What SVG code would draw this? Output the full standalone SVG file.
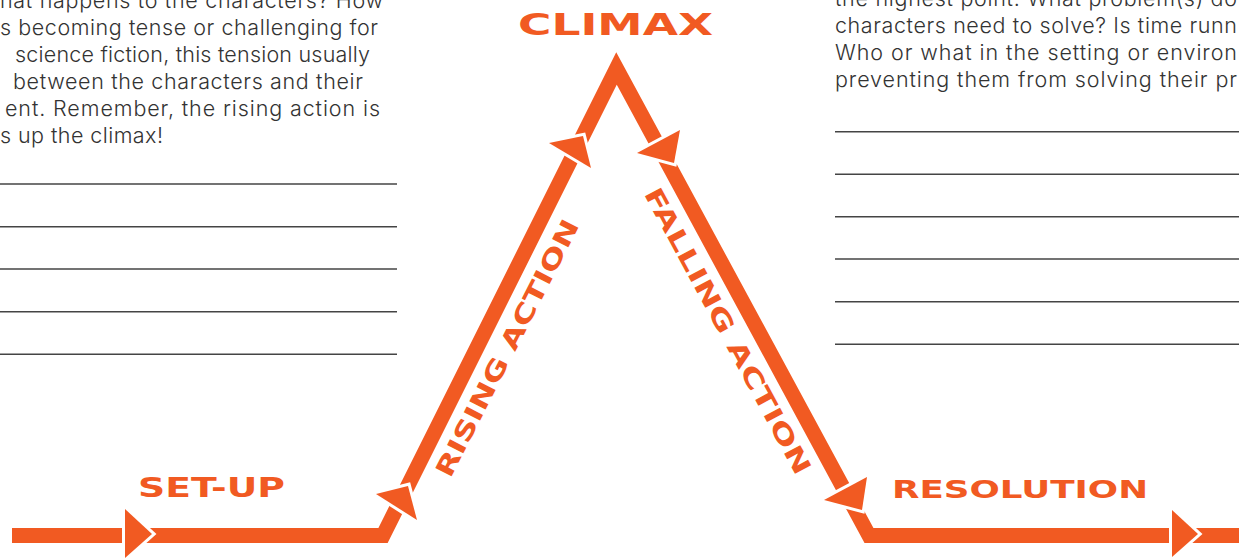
<svg xmlns="http://www.w3.org/2000/svg" width="1239" height="558" viewBox="0 0 1239 558">
<style>
.body{font-family:Inter,"Open Sans","DejaVu Sans",sans-serif;font-weight:300;font-size:21.5px;fill:#333333}
.lbl{font-family:"DejaVu Sans","Liberation Sans",sans-serif;font-weight:bold;fill:#F15A22}
.rule{stroke:#444444;stroke-width:1.5}
.band{fill:none;stroke:#F15A22;stroke-width:15;stroke-linejoin:miter;stroke-miterlimit:6}
.head{fill:#F15A22;stroke:#ffffff;stroke-width:6;paint-order:stroke;stroke-linejoin:miter}
</style>
<rect width="1239" height="558" fill="#ffffff"/>
<g id="left-text">
<text class="body" x="0" y="8" textLength="383">hat happens to the characters? How</text>
<text class="body" x="0" y="35" textLength="378">s becoming tense or challenging for</text>
<text class="body" x="15" y="62" textLength="355">science fiction, this tension usually</text>
<text class="body" x="13" y="89" textLength="350">between the characters and their</text>
<text class="body" x="5" y="116" textLength="375">ent. Remember, the rising action is</text>
<text class="body" x="0" y="143" textLength="163">s up the climax!</text>
</g>
<g id="left-lines">
<line class="rule" x1="0" y1="184" x2="397" y2="184"/>
<line class="rule" x1="0" y1="226.7" x2="397" y2="226.7"/>
<line class="rule" x1="0" y1="269" x2="397" y2="269"/>
<line class="rule" x1="0" y1="311.7" x2="397" y2="311.7"/>
<line class="rule" x1="0" y1="354.3" x2="397" y2="354.3"/>
</g>
<g id="right-text">
<text class="body" x="835" y="6" textLength="402">the highest point. What problem(s) do</text>
<text class="body" x="835" y="33" textLength="402">characters need to solve? Is time runn</text>
<text class="body" x="835" y="60" textLength="402">Who or what in the setting or environ</text>
<text class="body" x="835" y="87" textLength="402">preventing them from solving their pr</text>
</g>
<g id="right-lines">
<line class="rule" x1="835" y1="131.7" x2="1239" y2="131.7"/>
<line class="rule" x1="835" y1="174.3" x2="1239" y2="174.3"/>
<line class="rule" x1="835" y1="216.7" x2="1239" y2="216.7"/>
<line class="rule" x1="835" y1="259" x2="1239" y2="259"/>
<line class="rule" x1="835" y1="301.7" x2="1239" y2="301.7"/>
<line class="rule" x1="835" y1="344.3" x2="1239" y2="344.3"/>
</g>
<g id="connectors">
<path class="band" d="M12 535.5 H383 L616.5 68.5 L869 535.5 H1239"/>
<polygon class="head" points="125,509 125,558 152,534"/>
<polygon class="head" points="376,494 408,486 417,520"/>
<polygon class="head" points="549,143 583,136 591,168"/>
<polygon class="head" points="637,153 680,130 674,163"/>
<polygon class="head" points="824,500 867,477 862,510"/>
<polygon class="head" points="1172,510 1172,557 1198,534"/>
</g>
<g id="climax"><text class="lbl" x="518" y="35" font-size="30" textLength="195" lengthAdjust="spacingAndGlyphs">CLIMAX</text></g>
<g id="setup"><text class="lbl" x="138" y="497" font-size="26" textLength="147" lengthAdjust="spacingAndGlyphs">SET-UP</text></g>
<g id="resolution"><text class="lbl" x="892" y="498" font-size="25" textLength="256" lengthAdjust="spacingAndGlyphs">RESOLUTION</text></g>
<g id="rising"><text class="lbl" transform="translate(515,352) rotate(-63)" x="0" y="0" font-size="25" text-anchor="middle" textLength="285" lengthAdjust="spacingAndGlyphs">RISING ACTION</text></g>
<g id="falling"><text class="lbl" transform="translate(720,335) rotate(61.6)" x="0" y="0" font-size="25" text-anchor="middle" textLength="322" lengthAdjust="spacingAndGlyphs">FALLING ACTION</text></g>
</svg>
